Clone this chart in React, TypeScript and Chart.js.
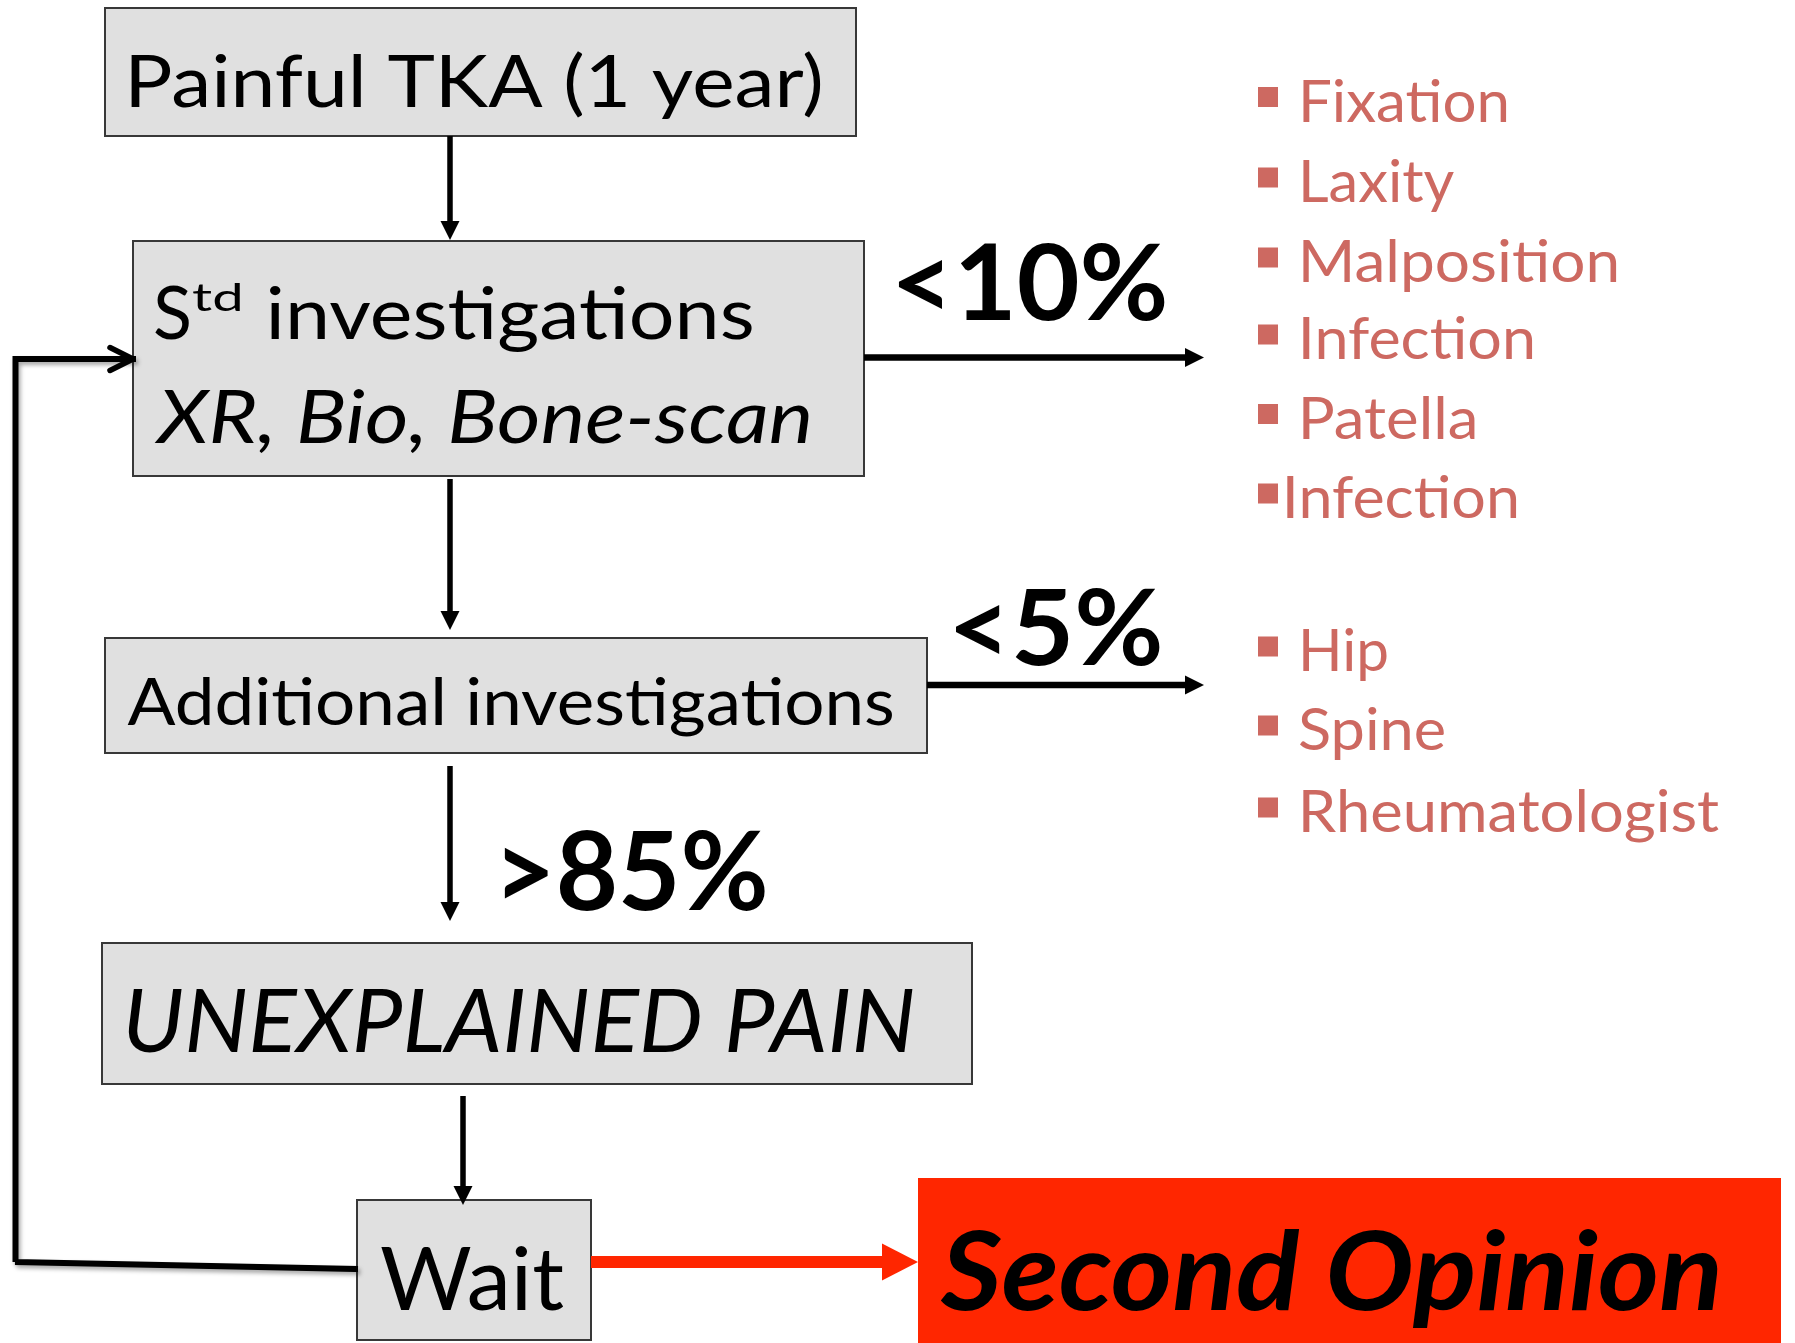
import React, { useEffect, useRef } from "react";
import { Chart, registerables } from "chart.js";

Chart.register(...registerables);

const W = 1795;
const H = 1343;

// ---- Flowchart nodes (chart units) ----
const boxNames = ["Painful TKA", "Std investigations", "Additional investigations", "Unexplained pain", "Wait", "Second Opinion"];
const boxLeft = [105, 133, 105, 102, 357, 918];
const boxRight = [856, 864, 927, 972, 591, 1781];
const boxTop = [8, 241, 638, 943, 1200, 1178];
const boxBottom = [136, 476, 753, 1084, 1340, 1343];
const boxKind = ["grey", "grey", "grey", "grey", "grey", "red"];

// ---- Connectors (chart units) ----
const connectorX = [
  [450, 450],
  [450, 450],
  [450, 450],
  [463, 463],
  [864, 1204],
  [927, 1204],
  [355, 15, 15.5, 133],
  [591, 918],
];
const connectorY = [
  [136, 240],
  [479, 630],
  [766, 921],
  [1096, 1205],
  [357.5, 357.5],
  [685, 685],
  [1269, 1262, 359, 359],
  [1262, 1262],
];
const connectorHead = ["solid", "solid", "solid", "solid", "solid", "solid", "open", "solid"];
const connectorKind = ["black", "black", "black", "black", "black", "black", "black", "red"];
const FEEDBACK_INDEX = 6;

// ---- Texts in the boxes / percentages ----
const mainTexts = [
  "Painful TKA (1 year)",
  "S",
  "td",
  "investigations",
  "XR, Bio, Bone-scan",
  "Additional investigations",
  "UNEXPLAINED PAIN",
  "Wait",
  "Second Opinion",
  "<10%",
  "<5%",
  ">85%",
];
const mainTextX = [131, 155, 192, 270, 154, 127.5, 127.5, 381, 940, 898, 955, 504];
const mainTextBase = [107, 339, 311, 339, 443, 725, 1052, 1310, 1310, 320, 665, 910];
const mainTextCap = [53, 54, 28, 53, 52, 47.5, 62, 63, 78, 77, 77, 80];
const mainTextWidth = [690, 34, 48, 482, 655, 765, 785, 183, 778, 267, 205, 261];
const mainTextStyle = ["", "", "", "", "italic", "", "italic", "", "italic bold", "bold", "bold", "bold"];

// ---- Cause lists ----
const causeLabels = ["Fixation", "Laxity", "Malposition", "Infection", "Patella", "Infection", "Hip", "Spine", "Rheumatologist"];
const causeBase = [121.5, 202, 282, 359, 438.5, 518, 671, 750, 832];
const causeTextX = [1303, 1303, 1303, 1303, 1303, 1287, 1303, 1299, 1303];
const causeWidth = [203, 151, 313, 229, 172, 229, 84, 145, 416];

const COLORS = {
  grey: "#E0E0E0",
  border: "#383838",
  red: "#FF2600",
  black: "#000000",
  cause: "#CD6961",
};
const FONT = "Lato, 'Open Sans', 'Noto Sans', sans-serif";

function drawFit(
  ctx: CanvasRenderingContext2D,
  text: string,
  x: number,
  base: number,
  cap: number,
  width: number,
  style: string,
  color: string
) {
  ctx.save();
  ctx.textBaseline = "alphabetic";
  ctx.textAlign = "left";
  ctx.font = `${style} 100px ${FONT}`;
  const capRatio = ctx.measureText("H").actualBoundingBoxAscent / 100 || 0.72;
  const size = cap / capRatio;
  ctx.font = `${style} ${size}px ${FONT}`;
  const m = ctx.measureText(text);
  const ink = m.actualBoundingBoxLeft + m.actualBoundingBoxRight;
  const sx = ink > 0 ? width / ink : 1;
  ctx.translate(x, base);
  ctx.scale(sx, 1);
  ctx.fillStyle = color;
  ctx.fillText(text, m.actualBoundingBoxLeft, 0);
  ctx.restore();
}

function headSize(i: number) {
  if (connectorKind[i] === "red") return { len: 36, half: 18.5 };
  if (connectorHead[i] === "open") return { len: 23, half: 11.5 };
  return { len: 19, half: 9.5 };
}
function lineWidth(i: number) {
  if (connectorKind[i] === "red") return 12;
  if (i === FEEDBACK_INDEX) return 6;
  if (connectorY[i][0] === connectorY[i][connectorY[i].length - 1]) return 6.5;
  return 5.5;
}

const flowPlugin = {
  id: "flow",
  beforeDatasetsDraw(chart: any) {
    const { ctx } = chart;
    const xs = chart.scales.x;
    const ys = chart.scales.y;
    boxNames.forEach((_, i) => {
      const x0 = xs.getPixelForValue(boxLeft[i]);
      const x1 = xs.getPixelForValue(boxRight[i]);
      const y0 = ys.getPixelForValue(boxTop[i]);
      const y1 = ys.getPixelForValue(boxBottom[i]);
      ctx.save();
      if (boxKind[i] === "red") {
        ctx.fillStyle = COLORS.red;
        ctx.fillRect(x0, y0, x1 - x0, y1 - y0);
      } else {
        ctx.fillStyle = COLORS.grey;
        ctx.fillRect(x0, y0, x1 - x0, y1 - y0);
        ctx.strokeStyle = COLORS.border;
        ctx.lineWidth = 2;
        ctx.strokeRect(x0, y0, x1 - x0, y1 - y0);
      }
      ctx.restore();
    });
  },
  beforeDatasetDraw(chart: any, args: any) {
    if (args.index === FEEDBACK_INDEX) {
      const ctx = chart.ctx;
      ctx.save();
      ctx.shadowColor = "rgba(0,0,0,0.35)";
      ctx.shadowBlur = 4;
      ctx.shadowOffsetX = 2;
      ctx.shadowOffsetY = 3;
    }
  },
  afterDatasetDraw(chart: any, args: any) {
    if (args.index === FEEDBACK_INDEX) chart.ctx.restore();
  },
  afterDatasetsDraw(chart: any) {
    const { ctx } = chart;
    const xs = chart.scales.x;
    const ys = chart.scales.y;
    // arrow heads
    connectorX.forEach((cx, i) => {
      const n = cx.length;
      const tx = xs.getPixelForValue(cx[n - 1]);
      const ty = ys.getPixelForValue(connectorY[i][n - 1]);
      const px = xs.getPixelForValue(cx[n - 2]);
      const py = ys.getPixelForValue(connectorY[i][n - 2]);
      const ang = Math.atan2(ty - py, tx - px);
      const { len, half } = headSize(i);
      const color = connectorKind[i] === "red" ? COLORS.red : COLORS.black;
      const bx = tx - Math.cos(ang) * len;
      const by = ty - Math.sin(ang) * len;
      const nx = -Math.sin(ang) * half;
      const ny = Math.cos(ang) * half;
      ctx.save();
      if (connectorHead[i] === "solid") {
        ctx.fillStyle = color;
        ctx.beginPath();
        ctx.moveTo(tx, ty);
        ctx.lineTo(bx + nx, by + ny);
        ctx.lineTo(bx - nx, by - ny);
        ctx.closePath();
        ctx.fill();
      } else {
        ctx.strokeStyle = color;
        ctx.lineWidth = 5.5;
        ctx.lineCap = "round";
        ctx.lineJoin = "round";
        ctx.beginPath();
        ctx.moveTo(bx + nx, by + ny);
        ctx.lineTo(tx, ty);
        ctx.lineTo(bx - nx, by - ny);
        ctx.stroke();
      }
      ctx.restore();
    });
    // main texts
    mainTexts.forEach((t, i) => {
      drawFit(
        ctx,
        t,
        xs.getPixelForValue(mainTextX[i]),
        ys.getPixelForValue(mainTextBase[i]),
        mainTextCap[i],
        mainTextWidth[i],
        mainTextStyle[i],
        COLORS.black
      );
    });
    // cause lists with square bullets
    causeLabels.forEach((t, i) => {
      const base = ys.getPixelForValue(causeBase[i]);
      ctx.save();
      ctx.fillStyle = COLORS.cause;
      ctx.fillRect(xs.getPixelForValue(1258), base - 34.5, 20, 20);
      ctx.restore();
      drawFit(ctx, t, xs.getPixelForValue(causeTextX[i]), base, 43, causeWidth[i], "", COLORS.cause);
    });
  },
};

export default function App() {
  const ref = useRef<HTMLCanvasElement>(null);

  useEffect(() => {
    document.body.style.margin = "0";
    document.body.style.overflow = "hidden";
    document.body.style.background = "#ffffff";
    let chart: Chart | null = null;
    let cancelled = false;

    const build = () => {
      if (cancelled || !ref.current) return;
      const datasets = connectorX.map((cx, i) => {
        const pts = cx.map((x, j) => ({ x, y: connectorY[i][j] }));
        if (connectorHead[i] === "solid") {
          const n = pts.length;
          const a = pts[n - 2];
          const b = pts[n - 1];
          const dx = b.x - a.x;
          const dy = b.y - a.y;
          const len = Math.hypot(dx, dy) || 1;
          const back = headSize(i).len - 1;
          pts[n - 1] = { x: b.x - (dx / len) * back, y: b.y - (dy / len) * back };
        }
        return {
          data: pts,
          showLine: true,
          borderColor: connectorKind[i] === "red" ? COLORS.red : COLORS.black,
          backgroundColor: "transparent",
          borderWidth: lineWidth(i),
          pointRadius: 0,
          pointHoverRadius: 0,
          tension: 0,
          fill: false,
          borderCapStyle: i === FEEDBACK_INDEX ? "square" : "butt",
          borderJoinStyle: "miter",
          clip: false,
        } as any;
      });

      chart = new Chart(ref.current, {
        type: "scatter",
        data: { datasets },
        options: {
          animation: false,
          responsive: false,
          devicePixelRatio: 1,
          layout: { padding: 0 },
          events: [],
          plugins: {
            legend: { display: false },
            tooltip: { enabled: false },
            title: { display: false },
          },
          scales: {
            x: { type: "linear", min: 0, max: W, display: false },
            y: { type: "linear", min: 0, max: H, reverse: true, display: false },
          },
        },
        plugins: [flowPlugin],
      });
    };

    const fonts = (document as any).fonts;
    if (fonts && fonts.load) {
      Promise.all([
        fonts.load(`40px Lato`),
        fonts.load(`italic 40px Lato`),
        fonts.load(`bold 40px Lato`),
        fonts.load(`italic bold 40px Lato`),
      ])
        .catch(() => null)
        .then(build);
    } else {
      build();
    }

    return () => {
      cancelled = true;
      if (chart) chart.destroy();
    };
  }, []);

  return (
    <div style={{ width: W, height: H, background: "#ffffff" }}>
      <canvas ref={ref} width={W} height={H} style={{ display: "block", width: W, height: H }} />
    </div>
  );
}
